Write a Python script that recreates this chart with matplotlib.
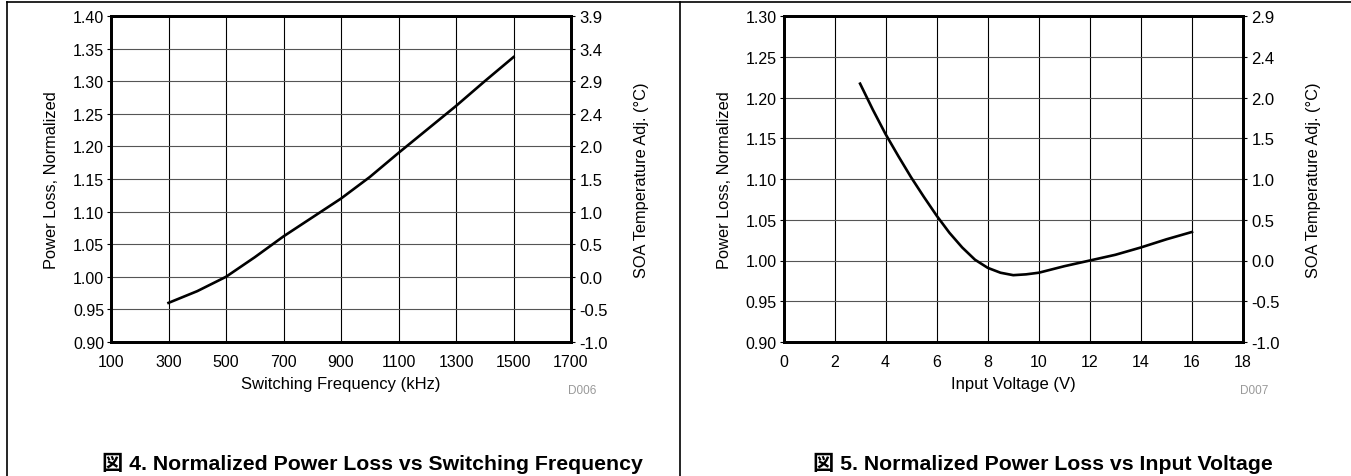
import matplotlib
matplotlib.use("Agg")
import matplotlib.pyplot as plt
from matplotlib.lines import Line2D

plt.rcParams['font.family'] = ['Liberation Sans', 'Noto Sans CJK JP', 'DejaVu Sans']

# ---- data: left chart ----
freq_khz = [300, 400, 500, 600, 700, 800, 900, 1000, 1100, 1200, 1300, 1400, 1500]
loss_freq = [0.960, 0.978, 1.000, 1.030, 1.062, 1.091, 1.120, 1.153, 1.190, 1.226, 1.262, 1.300, 1.337]
left_yticks = [0.90, 0.95, 1.00, 1.05, 1.10, 1.15, 1.20, 1.25, 1.30, 1.35, 1.40]
left_xticks = [100, 300, 500, 700, 900, 1100, 1300, 1500, 1700]
left_right_labels = ['-1.0', '-0.5', '0.0', '0.5', '1.0', '1.5', '2.0', '2.4', '2.9', '3.4', '3.9']

# ---- data: right chart ----
vin = [3, 3.5, 4, 4.5, 5, 5.5, 6, 6.5, 7, 7.5, 8, 8.5, 9, 9.5, 10, 11, 12, 13, 14, 15, 16]
loss_vin = [1.217, 1.185, 1.155, 1.128, 1.102, 1.078, 1.055, 1.034, 1.016, 1.001, 0.991, 0.985,
            0.982, 0.983, 0.985, 0.993, 1.000, 1.007, 1.016, 1.026, 1.035]
right_yticks = [0.90, 0.95, 1.00, 1.05, 1.10, 1.15, 1.20, 1.25, 1.30]
right_xticks = [0, 2, 4, 6, 8, 10, 12, 14, 16, 18]
right_right_labels = ['-1.0', '-0.5', '0.0', '0.5', '1.0', '1.5', '2.0', '2.4', '2.9']

W, H = 1351, 477
fig = plt.figure(figsize=(W / 100, H / 100), dpi=100)


def px_axes(x0, x1, ytop, ybot):
    return fig.add_axes([x0 / W, 1 - ybot / H, (x1 - x0) / W, (ybot - ytop) / H])


def make_chart(ax, x, y, xticks, yticks, rlabels, xlabel, code, caption, cap_x):
    ax.plot(x, y, color='black', lw=1.9, zorder=3)
    ax.set_xlim(xticks[0], xticks[-1])
    ax.set_ylim(yticks[0], yticks[-1])
    ax.set_xticks(xticks)
    ax.set_yticks(yticks)
    ax.set_xticklabels([str(t) for t in xticks])
    ax.set_yticklabels(['%.2f' % t for t in yticks])
    ax.grid(axis='x', color='black', lw=0.8)
    ax.grid(axis='y', color='#555555', lw=0.8)
    for s in ax.spines.values():
        s.set_linewidth(2.0)
    ax.tick_params(axis='x', length=0, pad=9, labelsize=11.5)
    ax.tick_params(axis='y', length=3, width=0.8, direction='out', pad=2, labelsize=11.5)
    ax.set_ylabel('Power Loss, Normalized', fontsize=11.8, labelpad=10)
    ax.set_xlabel(xlabel, fontsize=12, labelpad=5)
    ax2 = ax.twinx()
    ax2.set_ylim(yticks[0], yticks[-1])
    ax2.set_yticks(yticks)
    ax2.set_yticklabels(rlabels)
    ax2.tick_params(axis='y', length=3, width=0.8, direction='out', pad=3, labelsize=12)
    ax2.set_ylabel('SOA Temperature Adj. (°C)', fontsize=11.8, labelpad=19)
    for s in ax2.spines.values():
        s.set_linewidth(2.0)
    ax.text(1.025, -0.148, code, transform=ax.transAxes, fontsize=8.5, color='#999999',
            ha='center', va='center')
    fig.text(cap_x / W, 1 - 463 / H, caption, fontsize=15.3, fontweight='bold',
             ha='center', va='center')


axL = px_axes(111, 571, 17, 343)
make_chart(axL, freq_khz, loss_freq, left_xticks, left_yticks, left_right_labels,
           'Switching Frequency (kHz)', 'D006',
           '図 4. Normalized Power Loss vs Switching Frequency', 372)

axR = px_axes(783.5, 1243, 17, 343)
make_chart(axR, vin, loss_vin, right_xticks, right_yticks, right_right_labels,
           'Input Voltage (V)', 'D007',
           '図 5. Normalized Power Loss vs Input Voltage', 1043)

# frame lines of the surrounding table
fig.add_artist(Line2D([7 / W, 1], [1 - 3 / H, 1 - 3 / H], color='black', lw=1.2, transform=fig.transFigure))
fig.add_artist(Line2D([7 / W, 7 / W], [0, 1 - 3 / H], color='black', lw=1.2, transform=fig.transFigure))
fig.add_artist(Line2D([680 / W, 680 / W], [0, 1 - 3 / H], color='black', lw=1.2, transform=fig.transFigure))

fig.savefig('out.png', dpi=100)
